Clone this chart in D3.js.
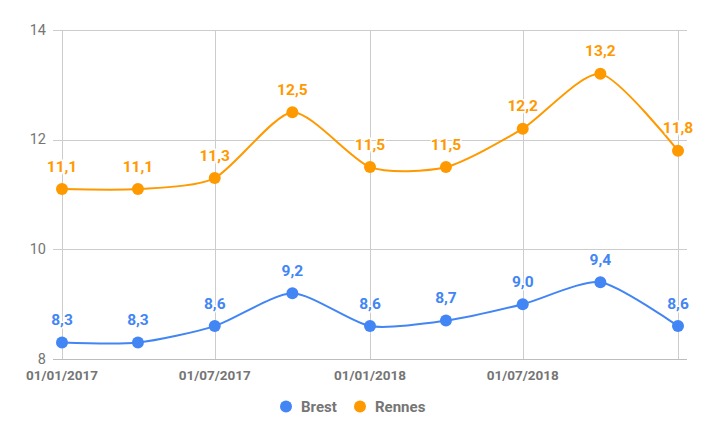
<!DOCTYPE html>
<html>
<head>
<meta charset="utf-8">
<script src="https://cdn.jsdelivr.net/npm/d3@7"></script>
<style>
  body { margin: 0; background: #fff; }
  svg { display: block; font-family: Roboto, "Noto Sans", sans-serif; }
</style>
</head>
<body>
<svg id="chart"></svg>
<script>
// quarterly dates (dd/mm/yyyy)
const dates = ["01/01/2017", "01/04/2017", "01/07/2017", "01/10/2017", "01/01/2018", "01/04/2018", "01/07/2018", "01/10/2018", "01/01/2019"];
const brest = [8.3, 8.3, 8.6, 9.2, 8.6, 8.7, 9.0, 9.4, 8.6];
const rennes = [11.1, 11.1, 11.3, 12.5, 11.5, 11.5, 12.2, 13.2, 11.8];
const seriesNames = ["Brest", "Rennes"];
const seriesColors = ["#4285f4", "#ff9900"];
const yTicks = [8, 10, 12, 14];
const xGridDates = ["01/01/2017", "01/07/2017", "01/01/2018", "01/07/2018", "01/01/2019"];
const xLabelDates = ["01/01/2017", "01/07/2017", "01/01/2018", "01/07/2018"];

const W = 709, H = 438;
const parse = d3.timeParse("%d/%m/%Y");
const fmtNum = v => v.toFixed(1).replace(".", ",");

const svg = d3.select("#chart").attr("width", W).attr("height", H);

const x = d3.scaleTime()
    .domain([parse(dates[0]), parse(dates[dates.length - 1])])
    .range([62, 678]);

const y = d3.scaleLinear()
    .domain([8, 14])
    .range([359, 30]);

// horizontal grid
svg.append("g")
    .selectAll("line")
    .data(yTicks)
    .join("line")
    .attr("x1", 53).attr("x2", 687)
    .attr("y1", d => Math.round(y(d)) + 0.5)
    .attr("y2", d => Math.round(y(d)) + 0.5)
    .attr("stroke", d => d === 8 ? "#bdbdbd" : "#cccccc")
    .attr("stroke-width", 1);

// vertical grid
svg.append("g")
    .selectAll("line")
    .data(xGridDates)
    .join("line")
    .attr("x1", d => Math.round(x(parse(d))) + 0.5)
    .attr("x2", d => Math.round(x(parse(d))) + 0.5)
    .attr("y1", 30).attr("y2", 359)
    .attr("stroke", "#cccccc");

// y labels
svg.append("g")
    .selectAll("text")
    .data(yTicks)
    .join("text")
    .attr("x", 46)
    .attr("y", d => y(d) + 4.5)
    .attr("text-anchor", "end")
    .attr("font-size", 14.5)
    .attr("fill", "#757575")
    .text(d => d);

// x labels
svg.append("g")
    .selectAll("text")
    .data(xLabelDates)
    .join("text")
    .attr("x", d => x(parse(d)))
    .attr("y", 380)
    .attr("text-anchor", "middle")
    .attr("font-size", 13.5)
    .attr("font-weight", "bold")
    .attr("fill", "#757575")
    .text(d => d);

const line = d3.line()
    .x((d, i) => x(parse(dates[i])))
    .y(d => y(d))
    .curve(d3.curveCardinal.tension(0.3));

[brest, rennes].forEach((vals, s) => {
    const color = seriesColors[s];
    const g = svg.append("g");
    g.append("path")
        .attr("d", line(vals))
        .attr("fill", "none")
        .attr("stroke", color)
        .attr("stroke-width", 2);
    g.selectAll("circle")
        .data(vals)
        .join("circle")
        .attr("cx", (d, i) => x(parse(dates[i])))
        .attr("cy", d => y(d))
        .attr("r", 6)
        .attr("fill", color);
    g.selectAll("text")
        .data(vals)
        .join("text")
        .attr("x", (d, i) => x(parse(dates[i])))
        .attr("y", d => y(d) - 17.5)
        .attr("text-anchor", "middle")
        .attr("font-size", 15.5)
        .attr("font-weight", "bold")
        .attr("fill", color)
        .attr("stroke", "#fff")
        .attr("stroke-width", 3)
        .attr("paint-order", "stroke")
        .text(d => fmtNum(d));
});

// legend
const legendX = [286, 360];
const legend = svg.append("g")
    .selectAll("g")
    .data(seriesNames)
    .join("g")
    .attr("transform", (d, i) => `translate(${legendX[i]},406.5)`);
legend.append("circle")
    .attr("r", 6)
    .attr("fill", (d, i) => seriesColors[i]);
legend.append("text")
    .attr("x", 15)
    .attr("y", 5.5)
    .attr("font-size", 15)
    .attr("font-weight", "bold")
    .attr("fill", "#757575")
    .text(d => d);
</script>
</body>
</html>
